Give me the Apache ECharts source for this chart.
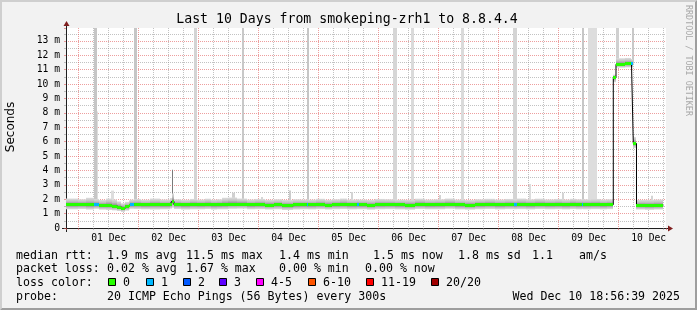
<!DOCTYPE html>
<html><head><meta charset="utf-8">
<script src="https://cdn.jsdelivr.net/npm/echarts@6/dist/echarts.min.js"></script>
<style>html,body{margin:0;padding:0;background:#f2f2f2;overflow:hidden}#c{width:697px;height:310px}</style>
</head><body><div id="c"></div>
<script>
// ---------------- data ----------------
const titleText = 'Last 10 Days from smokeping-zrh1 to 8.8.4.4';
const startHour = 18 + 56 / 60 + 39 / 3600;   // hours after 30 Nov 2025 00:00
const spanHours = 240;
const yMax = 13.9;                            // ms
const dataEndHour = 257.86;
// median segments: start hour, median rtt (ms), smoke low / high (ms), loss class
const segStart = [18.94,23.74,27.00,30.00,32.00,35.00,37.34,39.34,40.94,42.54,44.00,44.66,46.00,49.00,52.54,56.54,60.54,61.20,62.14,65.00,
  68.54,71.50,74.54,77.00,79.34,81.50,83.74,87.50,91.34,94.50,98.54,102.00,105.34,109.74,112.50,115.20,115.86,119.00,122.54,125.50,
  128.54,131.50,135.20,136.14,139.50,142.54,146.50,150.54,154.50,158.54,162.50,166.54,170.50,174.54,178.50,182.54,186.50,190.54,194.50,198.00,
  199.34,203.00,206.54,210.50,214.54,217.50,220.54,223.00,225.22,225.86,229.00,232.54,235.50,237.86,238.94,242.54,245.14,245.86,247.14,250.50,254.00];
const segMedian = [1.62,1.63,1.61,1.62,1.56,1.57,1.52,1.45,1.39,1.48,1.57,1.62,1.62,1.60,1.62,1.60,1.64,1.85,1.62,1.60,
  1.63,1.61,1.62,1.60,1.60,1.62,1.66,1.66,1.60,1.62,1.59,1.61,1.55,1.60,1.61,1.60,1.60,1.62,1.59,1.61,
  1.63,1.60,1.61,1.60,1.58,1.61,1.62,1.60,1.58,1.63,1.60,1.61,1.64,1.60,1.58,1.61,1.63,1.60,1.62,1.60,
  1.62,1.60,1.63,1.61,1.62,1.60,1.63,1.61,1.62,1.61,1.62,1.60,1.62,10.45,11.38,11.42,11.42,5.88,1.57,1.55,1.57];
const segLo = [1.30,1.32,1.28,1.33,1.27,1.25,1.22,1.18,1.12,1.20,1.28,1.33,1.32,1.30,1.28,1.30,1.34,1.40,1.32,1.28,
  1.30,1.30,1.32,1.28,1.30,1.30,1.33,1.34,1.30,1.31,1.28,1.30,1.25,1.28,1.30,1.30,1.29,1.31,1.28,1.30,
  1.32,1.29,1.31,1.30,1.27,1.30,1.31,1.29,1.27,1.32,1.30,1.30,1.33,1.29,1.27,1.30,1.32,1.29,1.31,1.30,
  1.31,1.29,1.32,1.30,1.31,1.29,1.32,1.30,1.32,1.30,1.31,1.29,1.31,10.13,11.14,11.16,11.15,5.55,1.28,1.26,1.28];
const segHi = [2.05,2.00,2.10,2.02,1.95,2.05,1.98,1.85,1.72,1.82,1.92,1.98,2.02,1.96,2.05,1.98,2.08,2.40,2.00,1.96,
  2.02,1.98,2.04,1.97,2.00,2.10,2.12,2.05,1.98,2.02,1.96,2.00,1.95,2.00,1.98,2.00,1.97,2.03,1.96,2.00,
  2.05,1.98,2.00,1.98,1.95,2.02,2.00,1.97,1.96,2.04,1.98,2.00,2.05,1.98,1.95,2.00,2.03,1.98,2.02,2.00,
  2.05,2.00,2.04,1.99,2.02,1.98,2.03,2.00,2.00,2.00,2.02,1.98,2.00,10.66,11.80,11.82,11.75,6.32,1.95,1.96,1.98];
const segLoss = [0,0,0,1,0,0,0,0,0,0,0,1,0,0,0,0,0,0,0,0,
  0,0,0,0,0,0,0,0,0,0,0,0,0,0,0,1,0,0,0,0,
  0,0,1,0,0,0,0,0,0,0,0,0,0,0,0,0,0,0,0,1,
  0,0,0,0,0,0,0,0,1,0,0,0,0,0,0,0,1,0,0,0,0];
// single slow pings reaching above the smoke (hours, top in ms, shade)
const spikeFrom = [30.14,31.34,46.14,70.14,89.34,115.34,149.74,157.14,177.14,197.94,225.34,227.74,239.14,245.54,
  37.14,61.34,82.94,85.54,96.94,108.34,132.94,168.14,204.34,217.54,252.94];
const spikeTo = [31.34,31.94,47.34,71.34,90.14,116.34,151.34,158.14,178.14,199.34,226.34,231.34,240.14,246.34,
  38.14,61.94,86.94,86.54,97.74,108.94,133.74,168.94,204.94,218.14,253.74];
const spikeTop = [14,8.1,14,14,14,14,14,14,14,14,14,14,14,14,
  2.6,4.05,2.05,2.45,2.15,2.6,2.5,2.3,3.05,2.45,2.25];
const spikeShade = ['#c6c6c6','#dddddd','#c6c6c6','#d4d4d4','#c8c8c8','#c6c6c6','#d6d6d6','#dadada','#dadada','#d4d4d4','#c6c6c6','#dddddd','#d0d0d0','#c8c8c8',
  '#dddddd','#7a7a7a','#dddddd','#d0d0d0','#d6d6d6','#cccccc','#d4d4d4','#d4d4d4','#dddddd','#d4d4d4','#d4d4d4'];
const lossLabels = ['0','1','2','3','4-5','6-10','11-19','20/20'];
const lossColors = ['#26ff00','#00b8ff','#0059ff','#5e00ff','#ff00ff','#ff5500','#ff0000','#a10000'];
const rttStats = ['1.9 ms avg','11.5 ms max','1.4 ms min','1.5 ms now','1.8 ms sd','1.1','am/s'];
const lossStats = ['0.02 % avg','1.67 % max','0.00 % min','0.00 % now'];
const probeText = '20 ICMP Echo Pings (56 Bytes) every 300s';
const stampText = 'Wed Dec 10 18:56:39 2025';
const months = ['Jan','Feb','Mar','Apr','May','Jun','Jul','Aug','Sep','Oct','Nov','Dec'];

// ---------------- build ----------------
const MONO = '"DejaVu Sans Mono", monospace';
const GRID = 'rgba(143,143,143,0.55)';
const MGRID = 'rgba(222,79,79,0.55)';
const AXIS = '#1f1f1f';
const ARROW = '#801f1f';
const segEnd = segStart.map((s, i) => i + 1 < segStart.length ? segStart[i + 1] : dataEndHour);
const segData = segStart.map((s, i) => [s / 24, segEnd[i] / 24, segMedian[i], segLo[i], segHi[i], segLoss[i]]);
const medianAt = h => { let k = 0; for (let i = 0; i < segStart.length; i++) if (segStart[i] <= h) k = i; return segMedian[k]; };
const spikeData = spikeFrom.map((f, i) => [f / 24, spikeTo[i] / 24, medianAt(f), spikeTop[i]]);
const lineData = segStart.map((s, i) => [s / 24, segMedian[i]]).concat([[dataEndHour / 24, segMedian[segMedian.length - 1]]]);
const xMin = startHour / 24, xMax = (startHour + spanHours) / 24;

function spikeItem(p, api) {
  const a = api.coord([api.value(0), api.value(3)]);
  const b = api.coord([api.value(1), api.value(2)]);
  const x0 = Math.round(a[0]), x1 = Math.max(x0 + 1, Math.round(b[0]));
  return { type: 'rect', shape: { x: x0, y: a[1], width: x1 - x0, height: b[1] - a[1] },
    style: { fill: spikeShade[p.dataIndex] } };
}
function smokeItem(p, api) {
  const a = api.coord([api.value(0), api.value(4)]);
  const b = api.coord([api.value(1), api.value(3)]);
  const ym = api.coord([api.value(0), api.value(2)])[1];
  const x0 = Math.round(a[0]), x1 = Math.round(b[0]);
  const h = b[1] - a[1];
  const m = Math.min(0.97, Math.max(0.03, (ym - a[1]) / h));
  return { type: 'rect', shape: { x: x0, y: a[1], width: x1 - x0, height: h },
    style: { fill: { type: 'linear', x: 0, y: 0, x2: 0, y2: 1, colorStops: [
      { offset: 0, color: '#dcdcdc' }, { offset: m * 0.45, color: '#c2c2c2' }, { offset: m * 0.8, color: '#989898' },
      { offset: m, color: '#6a6a6a' }, { offset: m + (1 - m) * 0.25, color: '#969696' },
      { offset: m + (1 - m) * 0.6, color: '#c2c2c2' }, { offset: 1, color: '#dcdcdc' }] } } };
}
function medianItem(p, api) {
  const a = api.coord([api.value(0), api.value(2)]);
  const b = api.coord([api.value(1), api.value(2)]);
  const x0 = Math.round(a[0]), x1 = Math.round(b[0]);
  return { type: 'rect', shape: { x: x0, y: Math.round(a[1] - 1.5), width: x1 - x0, height: 3 },
    style: { fill: lossColors[api.value(5)] } };
}

const txt = (x, y, text, extra) => Object.assign({ type: 'text', x, y, silent: true,
  style: Object.assign({ text, fill: '#000', font: '11.6px ' + MONO, align: 'left', verticalAlign: 'middle',
    textAlign: 'left', textVerticalAlign: 'middle' }, (extra && extra.style) || {}) }, extra ? { rotation: extra.rotation || 0 } : {});

const graphics = [
  { type: 'polygon', silent: true, shape: { points: [[0,0],[697,0],[695,2],[2,2],[2,308],[0,310]] }, style: { fill: '#cfcfcf' } },
  { type: 'polygon', silent: true, shape: { points: [[697,0],[697,310],[0,310],[2,308],[695,308],[695,2]] }, style: { fill: '#9e9e9e' } },
  { type: 'line', silent: true, shape: { x1: 66.5, y1: 24, x2: 66.5, y2: 28 }, style: { stroke: AXIS, lineWidth: 1 } },
  { type: 'line', silent: true, shape: { x1: 66.5, y1: 228, x2: 66.5, y2: 232 }, style: { stroke: AXIS, lineWidth: 1 } },
  { type: 'line', silent: true, shape: { x1: 62, y1: 228.5, x2: 66, y2: 228.5 }, style: { stroke: AXIS, lineWidth: 1 } },
  { type: 'line', silent: true, shape: { x1: 666, y1: 228.5, x2: 670, y2: 228.5 }, style: { stroke: AXIS, lineWidth: 1 } },
  { type: 'polygon', silent: true, shape: { points: [[63.5,26],[69.5,26],[66.5,21]] }, style: { fill: ARROW } },
  { type: 'polygon', silent: true, shape: { points: [[668,225.5],[668,231.5],[673,228.5]] }, style: { fill: ARROW } },
  txt(347, 19.5, titleText, { style: { font: '13.2px ' + MONO, align: 'center', textAlign: 'center' } }),
  txt(10.5, 127, 'Seconds', { rotation: Math.PI / 2, style: { font: '12px "DejaVu Sans", sans-serif', align: 'center', textAlign: 'center' } }),
  txt(688.5, 5, 'RRDTOOL / TOBI OETIKER', { rotation: -Math.PI / 2, style: { font: '8.4px ' + MONO, fill: '#a8a8a8' } }),
  txt(16, 255.5, 'median rtt:'),
  txt(16, 269.3, 'packet loss:'),
  txt(16, 283.1, 'loss color:'),
  txt(16, 296.9, 'probe:'),
  txt(107, 296.9, probeText),
  txt(680, 296.9, stampText, { style: { align: 'right', textAlign: 'right' } })
];
const rttX = [107, 186, 279, 373, 458, 532, 579];
rttStats.forEach((s, i) => graphics.push(txt(rttX[i], 255.5, s)));
const lossX = [107, 186, 279, 365];
lossStats.forEach((s, i) => graphics.push(txt(lossX[i], 269.3, s)));
const boxX = [108, 146, 183, 219, 256, 308, 366, 431];
lossLabels.forEach((l, i) => {
  graphics.push({ type: 'rect', silent: true, shape: { x: boxX[i] + 0.5, y: 278.5, width: 7, height: 7 },
    style: { fill: lossColors[i], stroke: '#000', lineWidth: 1 } });
  graphics.push(txt(boxX[i] + 15, 283.1, l));
});

const chart = echarts.init(document.getElementById('c'), null, { renderer: 'canvas' });
chart.setOption({
  animation: false,
  backgroundColor: '#f2f2f2',
  grid: { left: 66, top: 28, width: 600, height: 200, show: true, backgroundColor: '#ffffff', borderWidth: 0, containLabel: false },
  xAxis: [
    { type: 'value', position: 'bottom', min: xMin, max: xMax, splitNumber: 10,
      axisLine: { show: true, onZero: false, lineStyle: { color: AXIS, width: 1 } },
      axisTick: { show: true, length: 2, lineStyle: { color: MGRID } },
      minorTick: { show: true, splitNumber: 4, length: 2, lineStyle: { color: GRID } },
      axisLabel: { show: false },
      splitLine: { show: true, showMinLine: false, showMaxLine: false, lineStyle: { color: MGRID, width: 1, type: [1, 1] } },
      minorSplitLine: { show: true, lineStyle: { color: GRID, width: 1, type: [1, 1] } } },
    { type: 'value', position: 'bottom', min: xMin - 0.5, max: xMax - 0.5, splitNumber: 10,
      axisLine: { show: false }, axisTick: { show: false }, splitLine: { show: false },
      axisLabel: { show: true, margin: 5, color: '#000', fontFamily: MONO, fontSize: 9.7,
        formatter: v => { const r = Math.round(v); if (Math.abs(v - r) > 1e-6) return '';
          const d = new Date(Date.UTC(2025, 10, 30) + r * 86400000);
          return String(d.getUTCDate()).padStart(2, '0') + ' ' + months[d.getUTCMonth()]; } } }
  ],
  yAxis: { type: 'value', min: 0, max: yMax, interval: 1,
    axisLine: { show: true, lineStyle: { color: AXIS, width: 1 } },
    axisTick: { show: true, length: 2, lineStyle: { color: MGRID } },
    minorTick: { show: true, splitNumber: 2, length: 2, lineStyle: { color: GRID } },
    axisLabel: { margin: 6, color: '#000', fontFamily: MONO, fontSize: 9.7, showMaxLabel: false,
      formatter: v => Math.abs(v - Math.round(v)) > 1e-6 ? '' : (v === 0 ? '0' : Math.round(v) + ' m') },
    splitLine: { show: true, showMinLine: false, showMaxLine: false, lineStyle: { color: MGRID, width: 1, type: [1, 1] } },
    minorSplitLine: { show: true, lineStyle: { color: GRID, width: 1, type: [1, 1] } } },
  series: [
    { type: 'custom', name: 'spikes', z: 2, clip: true, silent: true, renderItem: spikeItem, data: spikeData },
    { type: 'custom', name: 'smoke', z: 3, clip: true, silent: true, renderItem: smokeItem, data: segData },
    { type: 'line', name: 'median', z: 4, step: 'end', symbol: 'none', silent: true, clip: true,
      lineStyle: { color: '#000', width: 1 }, data: lineData },
    { type: 'custom', name: 'loss', z: 6, clip: true, silent: true, renderItem: medianItem, data: segData }
  ],
  graphic: graphics
});
</script></body></html>
